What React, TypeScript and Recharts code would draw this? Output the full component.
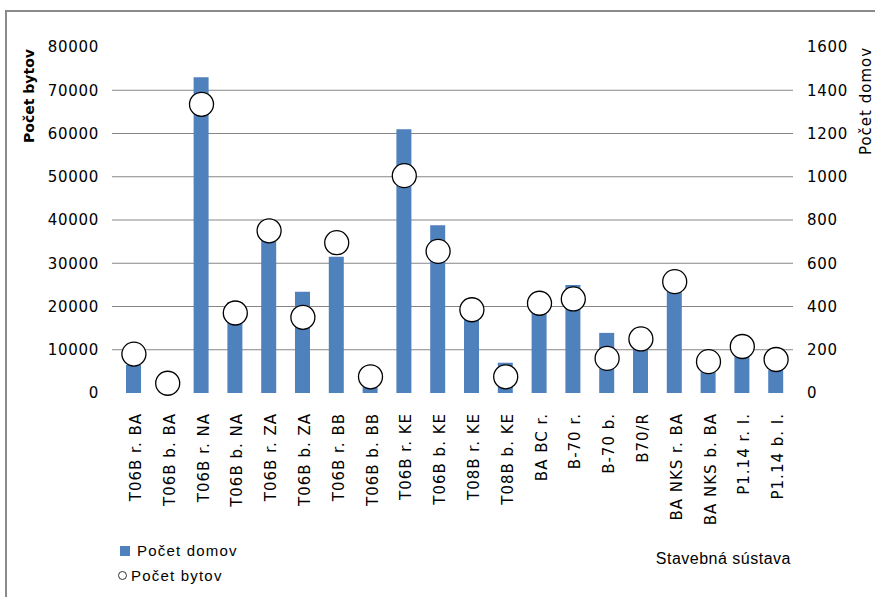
import React from 'react';
import { ComposedChart, Bar, Line, XAxis, YAxis, CartesianGrid, Legend } from 'recharts';

const categories = [
  'T06B r. BA', 'T06B b. BA', 'T06B r. NA', 'T06B b. NA', 'T06B r. ZA',
  'T06B b. ZA', 'T06B r. BB', 'T06B b. BB', 'T06B r. KE', 'T06B b. KE',
  'T08B r. KE', 'T08B b. KE', 'BA BC r.', 'B-70 r.', 'B-70 b.',
  'B70/R', 'BA NKS r. BA', 'BA NKS b. BA', 'P1.14 r. I.', 'P1.14 b. I.',
];
// bars, read on the left axis
const pocetDomov = [6500, 500, 73000, 21000, 36000, 23400, 31500, 1500, 61000, 38800, 17500, 7000, 19000, 25000, 13900, 11500, 24000, 5800, 8500, 5300];
// circles, read on the right axis
const pocetBytov = [180, 45, 1335, 370, 750, 350, 695, 75, 1005, 655, 385, 75, 415, 435, 160, 250, 515, 145, 215, 155];
const leftTicks = [0, 10000, 20000, 30000, 40000, 50000, 60000, 70000, 80000];
const rightTicks = [0, 200, 400, 600, 800, 1000, 1200, 1400, 1600];
const gridValues = [10000, 20000, 30000, 40000, 50000, 60000, 70000];

const data = categories.map((name, i) => ({ name, domov: pocetDomov[i], byty: pocetBytov[i] }));

const tickFont = { fontFamily: 'DejaVu Sans', fontSize: 15, fill: '#000' };

const XTick = (props: any) => {
  const { x, y, payload } = props;
  const bx = x + 7;
  const ty = y + 12;
  return (
    <text x={bx} y={ty} transform={`rotate(-90, ${bx}, ${ty})`} textAnchor="end"
      style={{ ...tickFont, letterSpacing: 1 }} fill="#000">
      {payload.value}
    </text>
  );
};

const LegendContent = () => (
  <div style={{ position: 'relative', width: 875, height: 597, fontFamily: 'Liberation Sans', fontSize: 15, letterSpacing: 1.2, color: '#000' }}>
    <div style={{ position: 'absolute', left: 120, top: 542, display: 'flex', alignItems: 'center', whiteSpace: 'nowrap' }}>
      <span style={{ display: 'inline-block', width: 10, height: 10, background: '#4F81BD', marginRight: 7 }} />
      <span>Počet domov</span>
    </div>
    <div style={{ position: 'absolute', left: 118, top: 567, display: 'flex', alignItems: 'center', whiteSpace: 'nowrap' }}>
      <span style={{ display: 'inline-block', width: 7, height: 7, borderRadius: 5, border: '1px solid #333', background: '#fff', marginRight: 4 }} />
      <span>Počet bytov</span>
    </div>
  </div>
);

export default function App() {
  return (
    <div style={{ position: 'absolute', left: 0, top: 0, width: 875, height: 597, background: '#fff', overflow: 'hidden' }}>
      <div style={{ position: 'absolute', left: 5, top: 10, width: 880, height: 600, borderLeft: '2px solid #8a8a8a', borderTop: '2px solid #8a8a8a' }} />
      <ComposedChart width={875} height={597} data={data} margin={{ top: 47, right: 0, bottom: 0, left: 0 }} barCategoryGap={0}>
        <CartesianGrid yAxisId="left" vertical={false} horizontalValues={gridValues} stroke="#868686" strokeWidth={1} />
        <XAxis dataKey="name" interval={0} height={204} axisLine={false} tickLine={false} tickSize={0} tickMargin={8}
          padding={{ left: 5, right: 0 }} tick={<XTick />}
          label={{
            content: (p: any) => {
              const vb = p.viewBox;
              return (
                <text x={vb.x + vb.width - 2} y={vb.y + 171} textAnchor="end"
                  style={{ fontFamily: 'Liberation Sans', fontSize: 16, letterSpacing: 0.5 }} fill="#000">
                  Stavebná sústava
                </text>
              );
            },
          }} />
        <YAxis yAxisId="left" orientation="left" width={112} domain={[0, 80000]} ticks={leftTicks} interval={0}
          axisLine={false} tickLine={false} tickSize={0} tickMargin={13} tick={{ ...tickFont, letterSpacing: 0.7 } as any}
          label={{
            content: (p: any) => {
              const vb = p.viewBox;
              const lx = vb.x + 34;
              const ly = vb.y + 49;
              return (
                <text x={lx} y={ly} transform={`rotate(-90, ${lx}, ${ly})`} textAnchor="middle"
                  style={{ fontFamily: 'DejaVu Sans', fontWeight: 'bold', fontSize: 14 }} fill="#000">
                  Počet bytov
                </text>
              );
            },
          }} />
        <YAxis yAxisId="right" orientation="right" width={82} domain={[0, 1600]} ticks={rightTicks} interval={0}
          axisLine={false} tickLine={false} tickSize={0} tickMargin={14} tick={{ ...tickFont, letterSpacing: 0.7 } as any}
          label={{
            content: (p: any) => {
              const vb = p.viewBox;
              const lx = vb.x + vb.width - 4;
              const ly = vb.y + 54;
              return (
                <text x={lx} y={ly} transform={`rotate(-90, ${lx}, ${ly})`} textAnchor="middle"
                  style={{ fontFamily: 'DejaVu Sans', fontSize: 15, letterSpacing: 1 }} fill="#000">
                  Počet domov
                </text>
              );
            },
          }} />
        <Legend layout="vertical" align="center" verticalAlign="middle" content={<LegendContent />}
          wrapperStyle={{ left: 0, top: 0, width: 875, height: 597, pointerEvents: 'none' }} />
        <Bar yAxisId="left" dataKey="domov" name="Počet domov" fill="#4F81BD" barSize={15} isAnimationActive={false} />
        <Line yAxisId="right" dataKey="byty" name="Počet bytov" stroke="none" strokeWidth={0} isAnimationActive={false}
          dot={{ r: 12, fill: '#fff', stroke: '#000', strokeWidth: 1.3 }} activeDot={false} />
      </ComposedChart>
    </div>
  );
}
